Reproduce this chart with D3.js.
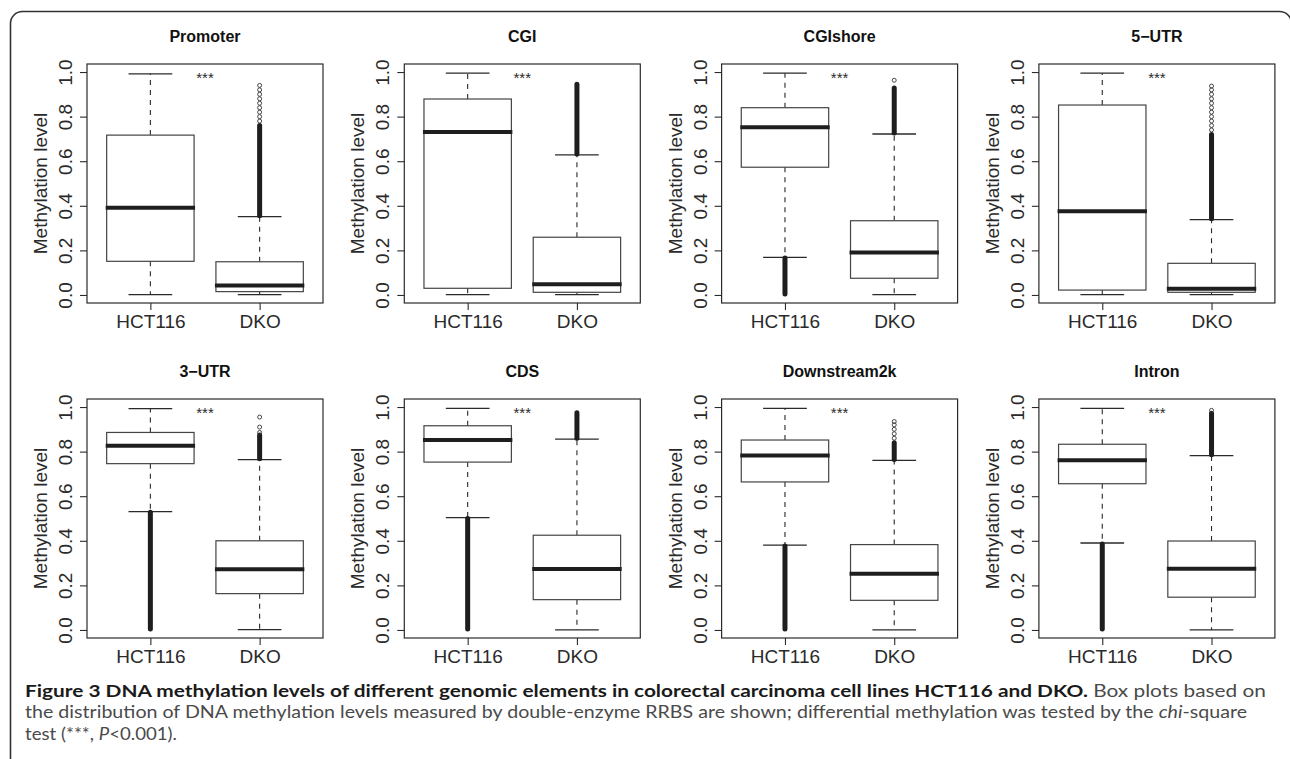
<!DOCTYPE html>
<html>
<head>
<meta charset="utf-8">
<script src="https://cdn.jsdelivr.net/npm/d3@7"></script>
<style>
  body { margin: 0; background: #fff; }
  svg { display: block; }
</style>
</head>
<body>
<div id="chart"></div>
<script>
// panel titles, row by row
var regions = ["Promoter", "CGI", "CGIshore", "5\u2212UTR", "3\u2212UTR", "CDS", "Downstream2k", "Intron"]
var groups = ["HCT116", "DKO"]
var yTicks = [0, 0.2, 0.4, 0.6, 0.8, 1.0]

// [lower whisker, Q1, median, Q3, upper whisker]
var hctStats = [
    [0.002, 0.151, 0.391, 0.717, 0.992],
    [0.002, 0.030, 0.731, 0.879, 0.995],
    [0.169, 0.573, 0.752, 0.840, 0.995],
    [0.002, 0.022, 0.375, 0.852, 0.995],
    [0.531, 0.746, 0.826, 0.886, 0.993],
    [0.504, 0.753, 0.852, 0.916, 0.994],
    [0.381, 0.664, 0.783, 0.852, 0.994],
    [0.390, 0.656, 0.761, 0.833, 0.994]
]
var dkoStats = [
    [0.002, 0.015, 0.042, 0.149, 0.351],
    [0.002, 0.012, 0.048, 0.259, 0.628],
    [0.002, 0.075, 0.191, 0.333, 0.722],
    [0.002, 0.012, 0.028, 0.142, 0.338],
    [0.002, 0.163, 0.272, 0.400, 0.764],
    [0.000, 0.136, 0.274, 0.425, 0.856],
    [0.000, 0.133, 0.252, 0.383, 0.761],
    [0.000, 0.147, 0.275, 0.399, 0.782]
]

// outliers: solid runs of overlapping points [from, to], plus loose single points
var hctOutRuns = [null, null, [0.004, 0.166], null, [0.004, 0.528], [0.004, 0.5], [0.004, 0.377], [0.004, 0.386]]
var dkoOutRuns = [[0.355, 0.76], [0.632, 0.945], [0.726, 0.928], [0.342, 0.72], [0.768, 0.874], [0.86, 0.974], [0.765, 0.84], [0.786, 0.972]]
var hctOutPoints = [[], [], [], [], [], [], [], []]
var dkoOutPoints = [
    [0.78, 0.80, 0.82, 0.84, 0.86, 0.88, 0.90, 0.92, 0.94],
    [],
    [0.963],
    [0.74, 0.76, 0.78, 0.80, 0.82, 0.84, 0.86, 0.88, 0.90, 0.92, 0.937],
    [0.886, 0.91, 0.955],
    [],
    [0.86, 0.88, 0.90, 0.92, 0.935],
    [0.985]
]
var starLevel = 0.95

var dims = {
    width: 1290, height: 759,
    left0: 87, colStep: 317.3, top0: 64, rowStep: 335,
    w: 236, h: 239
}

var svg = d3.select("#chart").append("svg")
    .attr("width", dims.width)
    .attr("height", dims.height)

// rounded frame round the whole figure (runs off the bottom/right)
svg.append("rect")
    .attr("x", 10.5).attr("y", 11.5)
    .attr("width", 1281).attr("height", 800)
    .attr("rx", 12).attr("ry", 12)
    .attr("fill", "none").attr("stroke", "#333").attr("stroke-width", 1.6)

var axisFont = "'Liberation Sans', Arial, Helvetica, sans-serif"
var ink = "#2a2a2a"

function drawBox(g, x, y, pos, s, run, pts) {
    var bw = 0.4, cw = 0.2
    // whiskers (dashed)
    g.append("line").attr("x1", x(pos)).attr("x2", x(pos)).attr("y1", y(s[3])).attr("y2", y(s[4]))
        .attr("stroke", ink).attr("stroke-width", 1.1).attr("stroke-dasharray", "5,5")
    g.append("line").attr("x1", x(pos)).attr("x2", x(pos)).attr("y1", y(s[1])).attr("y2", y(s[0]))
        .attr("stroke", ink).attr("stroke-width", 1.1).attr("stroke-dasharray", "5,5")
    // staples
    ;[s[0], s[4]].forEach(v => {
        g.append("line").attr("x1", x(pos - cw)).attr("x2", x(pos + cw)).attr("y1", y(v)).attr("y2", y(v))
            .attr("stroke", ink).attr("stroke-width", 1.3)
    })
    // box
    g.append("rect")
        .attr("x", x(pos - bw)).attr("y", y(s[3]))
        .attr("width", x(pos + bw) - x(pos - bw)).attr("height", y(s[1]) - y(s[3]))
        .attr("fill", "#fff").attr("stroke", "#444").attr("stroke-width", 1.2)
    // median
    g.append("line").attr("x1", x(pos - bw) - 1).attr("x2", x(pos + bw) + 1).attr("y1", y(s[2])).attr("y2", y(s[2]))
        .attr("stroke", "#1e1e1e").attr("stroke-width", 4)
    // outliers
    if (run) {
        g.append("line").attr("x1", x(pos)).attr("x2", x(pos)).attr("y1", y(run[0])).attr("y2", y(run[1]))
            .attr("stroke", "#1e1e1e").attr("stroke-width", 5).attr("stroke-linecap", "round")
    }
    g.selectAll(null).data(pts).enter().append("circle")
        .attr("cx", x(pos)).attr("cy", d => y(d)).attr("r", 2)
        .attr("fill", "none").attr("stroke", "#333").attr("stroke-width", 0.9)
}

regions.forEach((name, i) => {
    var col = i % 4, row = Math.floor(i / 4)
    var g = svg.append("g")
        .attr("transform", `translate(${dims.left0 + col * dims.colStep},${dims.top0 + row * dims.rowStep})`)

    var x = d3.scaleLinear().domain([0.42, 2.58]).range([0, dims.w])
    var y = d3.scaleLinear().domain([-0.036, 1.036]).range([dims.h, 0])

    // y axis, R style: labels turned, line only from first to last tick
    var ya = g.append("g").call(d3.axisLeft(y).tickValues(yTicks).tickFormat(d3.format(".1f")).tickSize(7))
    ya.select(".domain").remove()
    ya.selectAll("line").attr("stroke", ink).attr("stroke-width", 1.1)
    ya.selectAll("text")
        .attr("x", null).attr("dy", null)
        .attr("text-anchor", "middle")
        .attr("transform", "translate(-15,0) rotate(-90)")
        .attr("font-family", axisFont).attr("font-size", 19).attr("fill", ink)

    var xa = g.append("g").attr("transform", `translate(0,${dims.h})`)
        .call(d3.axisBottom(x).tickValues([1, 2]).tickFormat(d => groups[d - 1]).tickSize(7))
    xa.select(".domain").remove()
    xa.selectAll("line").attr("stroke", ink).attr("stroke-width", 1.1)
    xa.selectAll("text")
        .attr("y", 25).attr("dy", null)
        .attr("font-family", axisFont).attr("font-size", 19).attr("fill", ink)

    drawBox(g, x, y, 1, hctStats[i], hctOutRuns[i], hctOutPoints[i])
    drawBox(g, x, y, 2, dkoStats[i], dkoOutRuns[i], dkoOutPoints[i])

    // plot frame
    g.append("rect").attr("x", 0).attr("y", 0).attr("width", dims.w).attr("height", dims.h)
        .attr("fill", "none").attr("stroke", ink).attr("stroke-width", 1.2)

    g.append("text")
        .attr("x", x(1.5)).attr("y", y(starLevel))
        .attr("text-anchor", "middle")
        .attr("font-family", axisFont).attr("font-size", 15).attr("fill", ink)
        .text("***")

    g.append("text")
        .attr("x", dims.w / 2).attr("y", -22)
        .attr("text-anchor", "middle")
        .attr("font-family", axisFont).attr("font-size", 16).attr("font-weight", "bold").attr("fill", "#111")
        .text(name)

    g.append("text")
        .attr("transform", `translate(-40,${dims.h / 2}) rotate(-90)`)
        .attr("text-anchor", "middle")
        .attr("font-family", axisFont).attr("font-size", 19).attr("fill", ink)
        .text("Methylation level")
})

// caption
var capFont = "Lato, 'Open Sans', sans-serif"
var capSize = 17.5
var grey = "#4a4a4a"
var cap1 = svg.append("text").attr("x", 25).attr("y", 697)
    .attr("font-family", capFont).attr("font-size", capSize)
    .attr("textLength", 1241).attr("lengthAdjust", "spacingAndGlyphs")
cap1.append("tspan").attr("font-weight", "bold").attr("fill", "#1a1a1a")
    .text("Figure 3 DNA methylation levels of different genomic elements in colorectal carcinoma cell lines HCT116 and DKO.")
cap1.append("tspan").attr("fill", grey).text(" Box plots based on")

var cap2 = svg.append("text").attr("x", 25).attr("y", 718)
    .attr("font-family", capFont).attr("font-size", capSize).attr("fill", grey)
    .attr("textLength", 1222).attr("lengthAdjust", "spacingAndGlyphs")
cap2.append("tspan").text("the distribution of DNA methylation levels measured by double-enzyme RRBS are shown; differential methylation was tested by the ")
cap2.append("tspan").attr("font-style", "italic").text("chi")
cap2.append("tspan").text("-square")

var cap3 = svg.append("text").attr("x", 25).attr("y", 740)
    .attr("font-family", capFont).attr("font-size", capSize).attr("fill", grey)
    .attr("textLength", 152).attr("lengthAdjust", "spacingAndGlyphs")
cap3.append("tspan").text("test (***, ")
cap3.append("tspan").attr("font-style", "italic").text("P")
cap3.append("tspan").text("<0.001).")
</script>
</body>
</html>
